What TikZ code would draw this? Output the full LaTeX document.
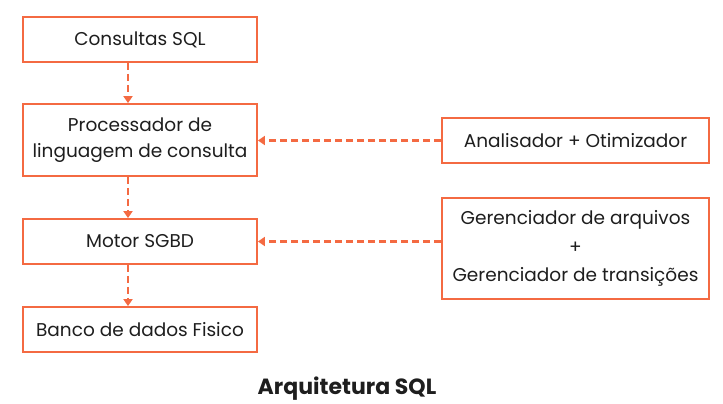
\documentclass[tikz,border=0pt]{standalone}
\usepackage{fontspec}
\setmainfont{Poppins}
\newfontfamily\titlefont[BoldFont={* Bold}]{Poppins}
\usetikzlibrary{arrows.meta}
\definecolor{accent}{HTML}{F46A42}
\definecolor{ink}{HTML}{1E1E1E}
\begin{document}
\begin{tikzpicture}[x=1pt,y=-1pt,
  box/.style={draw=accent, line width=1.8pt, fill=white, text=ink, align=center, font=\fontsize{18.5}{26}\selectfont, inner sep=0pt},
  flow/.style={draw=accent, line width=2.4pt, dash pattern=on 7pt off 4pt, -{Triangle[length=7pt,width=9pt]}}]
\useasboundingbox (0,0) rectangle (723,404);
\node[box, minimum width=234pt, minimum height=45pt] (q) at (140,39.5) {Consultas SQL};
\node[box, minimum width=234pt, minimum height=72pt] (p) at (140,140) {Processador de\\linguagem de consulta};
\node[box, minimum width=234pt, minimum height=45pt] (m) at (140,241.5) {Motor SGBD};
\node[box, minimum width=234pt, minimum height=45pt] (b) at (140,329.5) {Banco de dados Fisico};
\node[box, minimum width=267pt, minimum height=45pt] (a) at (575.5,140.5) {Analisador + Otimizador};
\node[box, minimum width=267pt, minimum height=101pt, font=\fontsize{18.5}{28.5}\selectfont] (g) at (575.5,248.5) {Gerenciador de arquivos\\+\\Gerenciador de transições};
\node[text=ink, font=\titlefont\bfseries\fontsize{22}{24}\selectfont] (t) at (347,389) {Arquitetura SQL};
\draw[flow] ([xshift=-12pt]q.south) -- ([xshift=-12pt]p.north);
\draw[flow] ([xshift=-12pt]p.south) -- ([xshift=-12pt]m.north);
\draw[flow] ([xshift=-12pt]m.south) -- ([xshift=-12pt]b.north);
\draw[flow] (a.west) -- (p.east |- a.west);
\draw[flow] (g.west |- m.east) -- (m.east);
\end{tikzpicture}
\end{document}
